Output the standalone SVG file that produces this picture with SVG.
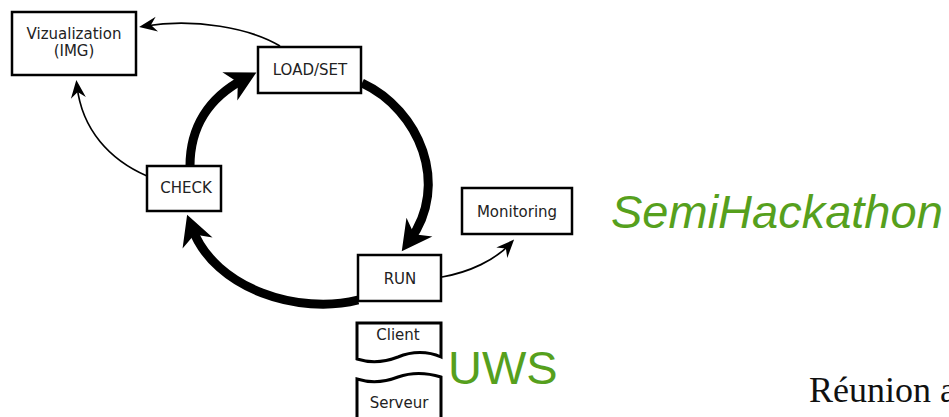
<svg xmlns="http://www.w3.org/2000/svg" width="949" height="417" viewBox="0 0 949 417">
<style>
.box{fill:#fff;stroke:#000;stroke-width:2.5}
.lbl{font-family:"DejaVu Sans",sans-serif;font-size:15px;fill:#222;text-anchor:middle}
.thick{fill:none;stroke:#000;stroke-width:9}
.thin{fill:none;stroke:#000;stroke-width:1.7}
.green{font-family:"Liberation Sans",Arial,sans-serif;font-size:47px;fill:#56a01d}
</style>
<defs>
<marker id="bigArrow" viewBox="-34 -18 36 36" refX="-14" refY="0" markerWidth="36" markerHeight="36" markerUnits="userSpaceOnUse" orient="auto">
<path d="M0,0 L-30,-16 L-21,0 L-30,16 Z" fill="#000"/>
</marker>
<marker id="smallArrow" viewBox="-20 -10 22 20" refX="-6" refY="0" markerWidth="22" markerHeight="20" markerUnits="userSpaceOnUse" orient="auto">
<path d="M0,0 L-18,-7.5 L-12,0 L-18,7.5 Z" fill="#000"/>
</marker>
</defs>
<rect width="949" height="417" fill="#fff"/>
<g id="connectors">
<path class="thick" d="M362,83 C420,110 450,185 410,240" marker-end="url(#bigArrow)"/>
<path class="thick" d="M358,300 C300,315 215,290 192,228" marker-end="url(#bigArrow)"/>
<path class="thick" d="M190,166 C190,128 208,98 244,79" marker-end="url(#bigArrow)"/>
<path class="thin" d="M280,46 C250,28 195,18 145,26" marker-end="url(#smallArrow)"/>
<path class="thin" d="M147,176 C110,160 82,130 77,86" marker-end="url(#smallArrow)"/>
<path class="thin" d="M442,277 C470,272 495,260 510,244" marker-end="url(#smallArrow)"/>
</g>
<g id="vizualization">
<rect class="box" x="12" y="12" width="124" height="63"/>
<text class="lbl" x="74" y="39">Vizualization</text>
<text class="lbl" x="74" y="56">(IMG)</text>
</g>
<g id="loadset">
<rect class="box" x="258" y="47" width="103" height="46"/>
<text class="lbl" x="310" y="75">LOAD/SET</text>
</g>
<g id="check">
<rect class="box" x="147" y="166" width="74" height="45"/>
<text class="lbl" x="186" y="193">CHECK</text>
</g>
<g id="run">
<rect class="box" x="358" y="255" width="83" height="46"/>
<text class="lbl" x="400" y="284">RUN</text>
</g>
<g id="monitoring">
<rect class="box" x="462" y="188" width="110" height="46"/>
<text class="lbl" x="517" y="217">Monitoring</text>
</g>
<g id="client">
<path d="M357,359 V323 H441 V357 C428,351 412,351 398,357 C385,362 370,363 357,359 Z" fill="#fff" stroke="#000" stroke-width="3"/>
<text class="lbl" x="398" y="340">Client</text>
</g>
<g id="serveur">
<path d="M357,420 V379 C370,383 385,382 398,377 C412,372 428,373 441,377 V420" fill="#fff" stroke="#000" stroke-width="3"/>
<text class="lbl" x="399" y="408">Serveur</text>
</g>
<text class="green" x="611" y="228" font-style="italic">SemiHackathon</text>
<text class="green" x="448" y="384">UWS</text>
<text x="809" y="402" font-family="'Liberation Serif','Times New Roman',serif" font-size="36" fill="#111">Réunion a</text>
</svg>
